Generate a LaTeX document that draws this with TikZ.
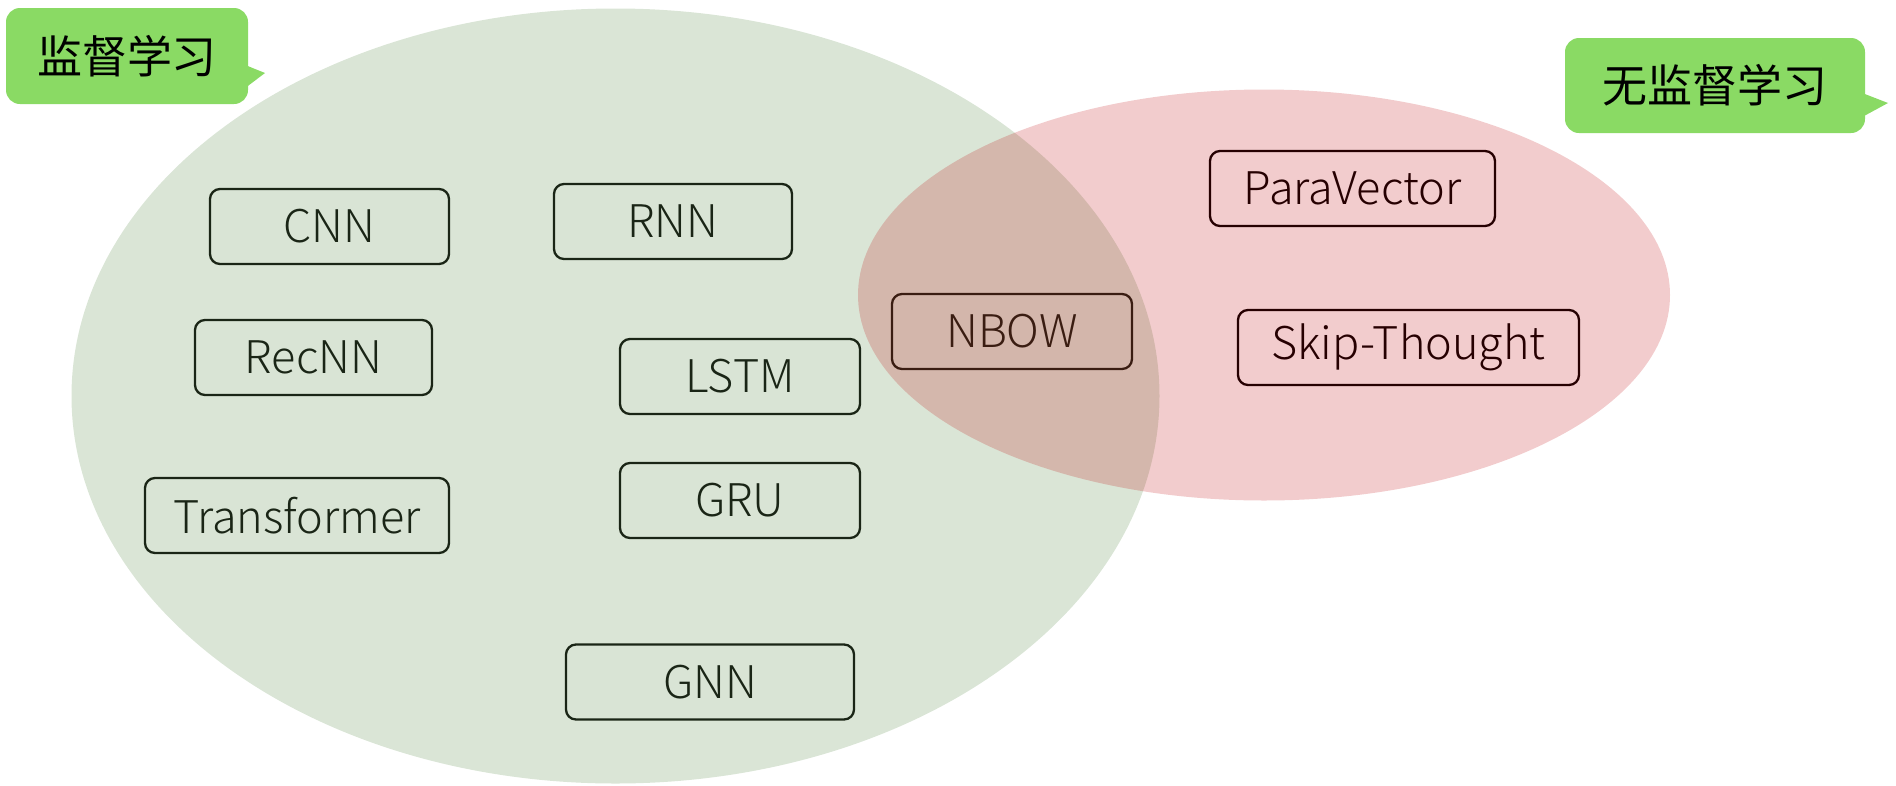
\documentclass[tikz,border=0pt]{standalone}
\usepackage{fontspec}
\setmainfont{Noto Sans CJK SC}
\newfontfamily\lightf{Noto Sans CJK SC Light}
\definecolor{gfill}{RGB}{107,151,91}
\definecolor{rfill}{RGB}{190,0,5}
\definecolor{callout}{RGB}{138,218,100}
\begin{document}
\begin{tikzpicture}[x=1pt,y=-1pt,
  mbox/.style={draw=black, line width=2.3pt, rounded corners=10pt, fill=white,
    inner sep=0pt, minimum height=75pt, font=\lightf\fontsize{45}{50}\selectfont},
  bubble/.style={fill=callout, rounded corners=14pt, inner sep=0pt,
    font=\fontsize{45}{52}\selectfont},
  setg/.style={fill=gfill, fill opacity=0.25},
  setr/.style={fill=rfill, fill opacity=0.2}]
\useasboundingbox (0,0) rectangle (1896,785);
% model boxes
\node[mbox, minimum width=239pt] (cnn) at (329.5,226.5) {CNN};
\node[mbox, minimum width=238pt] (rnn) at (673,221.5) {RNN};
\node[mbox, minimum width=237pt] (recnn) at (313.5,357.5) {RecNN};
\node[mbox, minimum width=240pt] (lstm) at (740,376.5) {LSTM};
\node[mbox, minimum width=304pt] (trans) at (297,515.5) {Transformer};
\node[mbox, minimum width=240pt] (gru) at (740,500.5) {GRU};
\node[mbox, minimum width=288pt] (gnn) at (710,682) {GNN};
\node[mbox, minimum width=240pt] (nbow) at (1012,331.5) {NBOW};
\node[mbox, minimum width=285pt] (para) at (1352.5,188.5) {ParaVector};
\node[mbox, minimum width=341pt] (skip) at (1408.5,347.5) {Skip-Thought};
% sets
\path[setg] (615.5,396) ellipse [x radius=544pt, y radius=387.5pt];
\path[setr] (1264,295) ellipse [x radius=406pt, y radius=205.5pt];
% callouts
\node[bubble, minimum width=242pt, minimum height=96pt] (sup) at (127,56) {监督学习};
\fill[callout] ([xshift=-3pt,yshift=-9pt]sup.east) -- (265,73) -- ([xshift=-3pt,yshift=-32pt]sup.east) -- cycle;
\node[bubble, minimum width=300pt, minimum height=95pt] (unsup) at (1715,85.5) {无监督学习};
\fill[callout] ([xshift=-3pt,yshift=-7.5pt]unsup.east) -- (1888,103) -- ([xshift=-3pt,yshift=-31.5pt]unsup.east) -- cycle;
\end{tikzpicture}
\end{document}
